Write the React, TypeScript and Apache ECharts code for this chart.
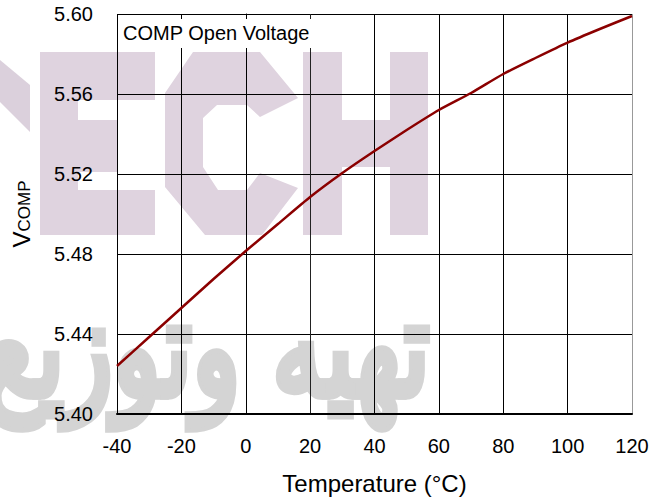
import React, { useEffect, useRef } from "react";
import * as echarts from "echarts";

const temperatures: number[] = [-40, -30, -20, -10, 0, 10, 20, 30, 40, 50, 60, 70, 80, 90, 100, 110, 120];
const vcompValues: number[] = [5.424, 5.4385, 5.453, 5.4675, 5.4815, 5.495, 5.5085, 5.5205, 5.5315, 5.542, 5.552, 5.5605, 5.57, 5.578, 5.5857, 5.5925, 5.599];
const xTicks = { min: -40, max: 120, interval: 20 };
const yTicks = { min: 5.4, max: 5.6, interval: 0.04 };
const chartTitle = "COMP Open Voltage";
const xName = "Temperature (°C)";
const watermarkText = "تهيه وتوزيع قطعات";

const FONT = "'Liberation Sans', Arial, sans-serif";
const LAV = "#dfd3df";

export default function App() {
  const ref = useRef<HTMLDivElement>(null);
  useEffect(() => {
    if (!ref.current) return;
    const chart = echarts.init(ref.current, null, { renderer: "svg" });
    const xSplitColors = ["#000", "#000", "#000", "#222", "#000", "#000", "#000", "#000", "#999"];
    const wm = (el: any) => ({ z: -10, silent: true, ...el });
    chart.setOption({
      animation: false,
      backgroundColor: "#fff",
      textStyle: { fontFamily: FONT },
      title: {
        text: chartTitle,
        left: 118,
        top: 19,
        backgroundColor: "#fff",
        padding: [4, 4, 5, 5],
        textStyle: { fontFamily: FONT, fontSize: 20, fontWeight: "normal", color: "#000" },
      },
      graphic: [
        wm({ type: "polygon", shape: { points: [[0, 60], [30, 85], [30, 132], [0, 102]] }, style: { fill: "#dbd0dc" } }),
        // E
        wm({ type: "rect", shape: { x: 40, y: 52, width: 38, height: 183 }, style: { fill: LAV } }),
        wm({ type: "rect", shape: { x: 40, y: 52, width: 115, height: 48 }, style: { fill: LAV } }),
        wm({ type: "rect", shape: { x: 40, y: 120, width: 77, height: 52 }, style: { fill: LAV } }),
        wm({ type: "rect", shape: { x: 40, y: 190, width: 115, height: 45 }, style: { fill: LAV } }),
        // C
        wm({
          type: "polygon",
          shape: {
            points: [
              [193, 52], [260, 52], [298, 98], [260, 117], [247, 105], [217, 105], [203, 118], [203, 167],
              [218, 190], [247, 190], [260, 173], [298, 188], [262, 235], [205, 235], [165, 187], [165, 93],
            ],
          },
          style: { fill: LAV },
        }),
        // H
        wm({ type: "rect", shape: { x: 303, y: 52, width: 39, height: 183 }, style: { fill: LAV } }),
        wm({ type: "rect", shape: { x: 390, y: 52, width: 38, height: 183 }, style: { fill: LAV } }),
        wm({ type: "rect", shape: { x: 342, y: 120, width: 48, height: 47 }, style: { fill: LAV } }),
        // Arabic
        wm({
          type: "text",
          x: 430,
          y: 348,
          scaleY: 1.35,
          style: {
            text: watermarkText,
            fontFamily: "'DejaVu Sans', sans-serif",
            fontWeight: "normal",
            fontSize: 100,
            fill: "#d4d4d4",
            stroke: "#d4d4d4",
            lineWidth: 7,
            lineJoin: "round",
            align: "right",
            verticalAlign: "middle",
          },
        }),
      ],
      grid: { left: 117, right: 34, top: 14, bottom: 84, containLabel: false, outerBoundsMode: "none" },
      xAxis: {
        type: "value",
        min: xTicks.min,
        max: xTicks.max,
        interval: xTicks.interval,
        name: xName,
        nameLocation: "middle",
        nameGap: 57,
        nameTextStyle: { fontFamily: FONT, fontSize: 24, color: "#000" },
        axisLine: { show: true, onZero: false, lineStyle: { color: "#000", width: 2 } },
        axisTick: { show: false },
        axisLabel: { margin: 22, fontFamily: FONT, fontSize: 20, color: "#000" },
        splitLine: { show: true, lineStyle: { color: xSplitColors, width: 1 } },
      },
      yAxis: {
        type: "value",
        min: yTicks.min,
        max: yTicks.max,
        interval: yTicks.interval,
        name: "{v|V}{s|COMP}",
        nameLocation: "middle",
        nameRotate: 90,
        nameGap: 84,
        nameTextStyle: {
          color: "#000",
          fontFamily: FONT,
          rich: {
            v: { fontFamily: FONT, fontSize: 24, lineHeight: 24, color: "#000", verticalAlign: "bottom" },
            s: { fontFamily: FONT, fontSize: 17, lineHeight: 17, color: "#000", verticalAlign: "bottom" },
          },
        },
        axisLine: { show: true, lineStyle: { color: "#000", width: 1 } },
        axisTick: { show: false },
        axisLabel: {
          margin: 24,
          fontFamily: FONT,
          fontSize: 20,
          color: "#000",
          formatter: (v: number) => v.toFixed(2),
        },
        splitLine: { show: true, lineStyle: { color: "#000", width: 1 } },
      },
      series: [
        {
          type: "line",
          data: temperatures.map((t, i) => [t, vcompValues[i]]),
          showSymbol: false,
          smooth: 0.2,
          lineStyle: { color: "#8b0000", width: 2.5 },
          z: 5,
        },
      ],
    });
    return () => chart.dispose();
  }, []);
  return <div ref={ref} style={{ width: 666, height: 498, position: "absolute", left: 0, top: 0 }} />;
}
